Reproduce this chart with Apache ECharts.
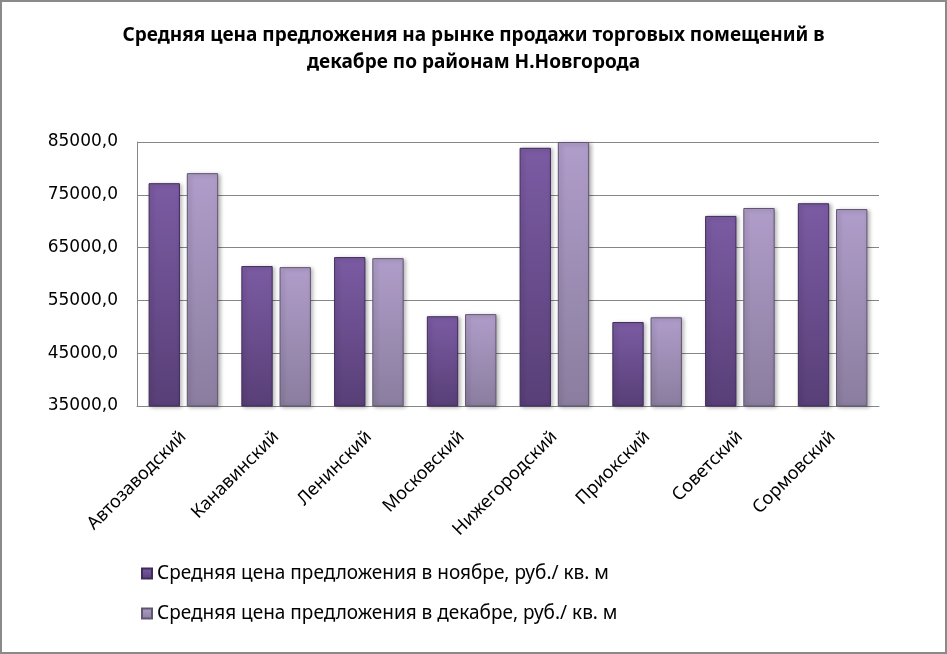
<!DOCTYPE html>
<html><head><meta charset="utf-8">
<script src="https://cdn.jsdelivr.net/npm/echarts@6/dist/echarts.min.js"></script>
<style>
html,body{margin:0;padding:0;background:#fff;}
#frame{position:absolute;left:0;top:0;width:943px;height:650px;border:2px solid #8a8a8a;box-sizing:content-box;}
#c{position:absolute;left:0;top:0;width:947px;height:654px;}
</style></head>
<body>
<div id="frame"></div>
<div id="c"></div>
<script>
const titleText = 'Средняя цена предложения на рынке продажи торговых помещений в\nдекабре по районам Н.Новгорода';
const categories = ['Автозаводский','Канавинский','Ленинский','Московский','Нижегородский','Приокский','Советский','Сормовский'];
const seriesNames = ['Средняя цена предложения в ноябре, руб./ кв. м','Средняя цена предложения в декабре, руб./ кв. м'];
const novValues = [77200, 61500, 63200, 52000, 83900, 50900, 71000, 73400];
const decValues = [79100, 61300, 63000, 52400, 85000, 51800, 72500, 72300];
const yMin = 35000, yMax = 85000, yStep = 10000;

const chart = echarts.init(document.getElementById('c'), null, {renderer:'canvas'});
function grad(top, bottom){
  return new echarts.graphic.LinearGradient(0,0,0,1,[{offset:0,color:top},{offset:1,color:bottom}]);
}
chart.setOption({
  animation:false,
  backgroundColor:'transparent',
  title:{text:titleText,left:'center',top:17,textStyle:{fontFamily:'Noto Sans',fontWeight:'bold',fontSize:19,lineHeight:27,color:'#000'}},
  grid:{left:137,right:68,top:142,bottom:248,containLabel:false},
  legend:{orient:'vertical',left:136,top:559,itemGap:21,itemWidth:10,itemHeight:10,icon:'rect',
    textStyle:{fontFamily:'Noto Sans',fontSize:19,color:'#000'},
    data:seriesNames},
  xAxis:{type:'category',data:categories,
    axisLine:{lineStyle:{color:'#868686',width:1}},axisTick:{show:false},
    axisLabel:{rotate:45,margin:28,fontFamily:'Noto Sans',fontSize:18,color:'#000',interval:0}},
  yAxis:{type:'value',min:yMin,max:yMax,interval:yStep,
    axisLine:{show:true,lineStyle:{color:'#868686'}},axisTick:{show:false},
    splitLine:{lineStyle:{color:'#868686',width:1}},
    axisLabel:{margin:19,fontFamily:'DejaVu Sans',fontSize:17,color:'#000',formatter:v=>v.toFixed(1).replace('.',',')}},
  series:[
    {name:seriesNames[0],type:'bar',data:novValues,barGap:'22%',barCategoryGap:'25%',
      itemStyle:{color:grad('#7b5ba3','#583f77'),borderColor:'#3f2c5a',borderWidth:1,shadowColor:'rgba(0,0,0,0.3)',shadowBlur:4,shadowOffsetX:2,shadowOffsetY:1}},
    {name:seriesNames[1],type:'bar',data:decValues,
      itemStyle:{color:grad('#b09dca','#8a7d9e'),borderColor:'#5f566f',borderWidth:1,shadowColor:'rgba(0,0,0,0.3)',shadowBlur:4,shadowOffsetX:2,shadowOffsetY:1}}
  ]
});
</script>
</body></html>
